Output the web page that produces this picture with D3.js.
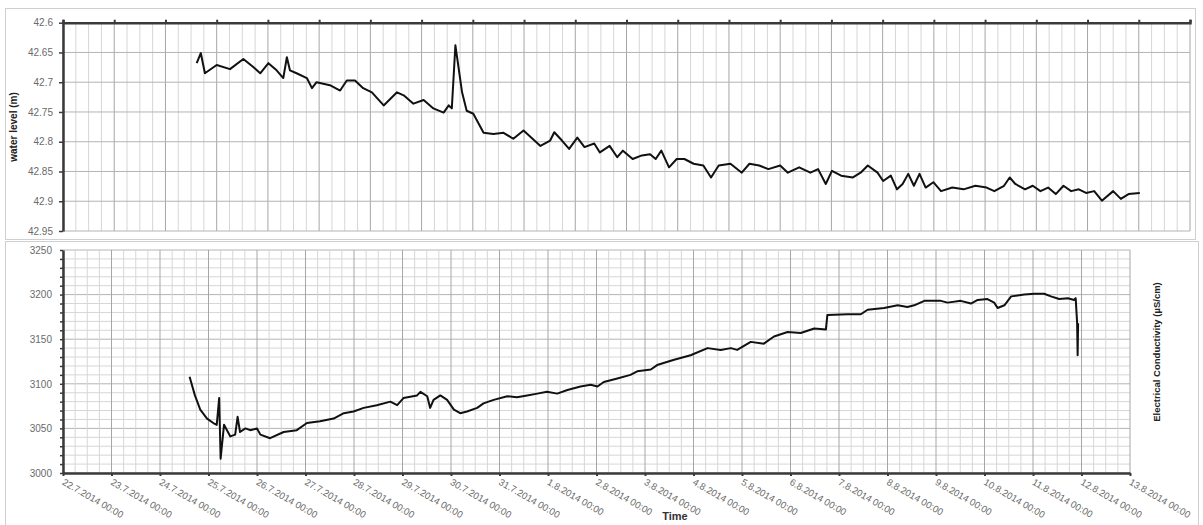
<!DOCTYPE html>
<meta charset="utf-8">
<title>Water level and EC</title>
<style>
body { margin: 0; background: #fff; }
svg { display: block; font-family: "Liberation Sans", Arial, sans-serif; }
</style>
<body>
<script src="https://d3js.org/d3.v7.min.js"></script>
<div id="chart"></div>
<script>

// days since 22.7.2014 00:00 and values
var levelDays = [2.61, 2.69, 2.77, 3.00, 3.26, 3.52, 3.72, 3.85, 4.01, 4.17, 4.30, 4.37, 4.43, 4.56, 4.76, 4.86, 4.95,
  5.21, 5.41, 5.54, 5.70, 5.86, 6.03, 6.26, 6.52, 6.65, 6.84, 7.04, 7.23, 7.43, 7.53, 7.59, 7.66, 7.79, 7.88,
  8.01, 8.21, 8.40, 8.60, 8.79, 8.99, 9.32, 9.51, 9.59, 9.74, 9.88, 10.04, 10.18, 10.37, 10.48, 10.67, 10.82,
  10.93, 11.12, 11.30, 11.46, 11.57, 11.68, 11.83, 11.98, 12.13, 12.31, 12.50, 12.65, 12.80, 13.03, 13.25,
  13.40, 13.59, 13.77, 14.00, 14.15, 14.37, 14.59, 14.74, 14.89, 15.01, 15.19, 15.42, 15.57, 15.71, 15.90,
  16.01, 16.16, 16.28, 16.39, 16.50, 16.61, 16.72, 16.84, 16.99, 17.14, 17.36, 17.58, 17.81, 18.03, 18.18,
  18.37, 18.48, 18.59, 18.78, 18.93, 19.08, 19.23, 19.38, 19.53, 19.68, 19.83, 19.97, 20.13, 20.28, 20.50,
  20.65, 20.80, 21.02];
var levelValues = [42.668, 42.651, 42.685, 42.671, 42.678, 42.661, 42.675, 42.685, 42.668, 42.680, 42.693, 42.658,
  42.680, 42.685, 42.693, 42.710, 42.700, 42.705, 42.714, 42.697, 42.697, 42.710, 42.717, 42.739, 42.717,
  42.722, 42.736, 42.730, 42.744, 42.751, 42.739, 42.744, 42.638, 42.717, 42.748, 42.753, 42.785, 42.787,
  42.785, 42.795, 42.781, 42.807, 42.798, 42.784, 42.798, 42.812, 42.793, 42.809, 42.803, 42.818, 42.807,
  42.826, 42.815, 42.829, 42.823, 42.821, 42.829, 42.815, 42.843, 42.829, 42.829, 42.837, 42.840, 42.860,
  42.840, 42.837, 42.852, 42.837, 42.840, 42.846, 42.840, 42.852, 42.843, 42.852, 42.846, 42.871, 42.849,
  42.857, 42.860, 42.852, 42.840, 42.852, 42.866, 42.857, 42.880, 42.871, 42.854, 42.874, 42.854, 42.877,
  42.868, 42.883, 42.877, 42.880, 42.874, 42.877, 42.883, 42.874, 42.860, 42.871, 42.880, 42.874, 42.883,
  42.877, 42.888, 42.874, 42.883, 42.880, 42.886, 42.883, 42.899, 42.883, 42.896, 42.888, 42.886];

var ecDays = [2.61, 2.72, 2.83, 2.97, 3.10, 3.17, 3.22, 3.25, 3.32, 3.45, 3.55, 3.60, 3.65, 3.76, 3.86, 4.00, 4.07,
  4.27, 4.55, 4.82, 5.03, 5.30, 5.58, 5.79, 5.99, 6.20, 6.47, 6.75, 6.89, 7.02, 7.30, 7.37, 7.51, 7.57, 7.64,
  7.78, 7.92, 8.06, 8.19, 8.33, 8.54, 8.67, 8.88, 9.16, 9.36, 9.57, 9.78, 9.98, 10.19, 10.40, 10.67, 10.88,
  11.02, 11.15, 11.43, 11.70, 11.84, 12.12, 12.25, 12.60, 12.94, 13.29, 13.56, 13.77, 13.90, 14.18, 14.45,
  14.66, 14.94, 15.21, 15.49, 15.73, 15.76, 16.18, 16.45, 16.59, 16.93, 17.21, 17.41, 17.55, 17.76, 18.10,
  18.24, 18.51, 18.72, 18.86, 19.06, 19.20, 19.27, 19.41, 19.55, 19.82, 20.03, 20.23, 20.37, 20.54, 20.72,
  20.85, 20.88, 20.91, 20.92, 20.93];
var ecValues = [3108, 3087, 3071, 3061, 3056, 3054, 3084, 3016, 3054, 3041, 3043, 3063, 3046, 3050, 3048, 3050, 3043,
  3039, 3046, 3048, 3056, 3058, 3061, 3067, 3069, 3073, 3076, 3080, 3076, 3084, 3087, 3091, 3086, 3073, 3082,
  3087, 3082, 3071, 3067, 3069, 3073, 3078, 3082, 3086, 3085, 3087, 3089, 3091, 3089, 3093, 3097, 3099,
  3097, 3102, 3106, 3110, 3114, 3116, 3121, 3127, 3132, 3140, 3138, 3140, 3138, 3147, 3145,
  3153, 3158, 3157, 3162, 3161, 3177, 3178, 3178, 3183, 3185, 3188, 3186, 3188, 3193, 3193,
  3191, 3193, 3190, 3194, 3195, 3191, 3185, 3188, 3198, 3200, 3201, 3201, 3198, 3195, 3196,
  3194, 3196, 3168, 3132, 3168];

var levelTicks = [42.6, 42.65, 42.7, 42.75, 42.8, 42.85, 42.9, 42.95];
var ecTicks = [3000, 3050, 3100, 3150, 3200, 3250];

var start = new Date(Date.UTC(2014, 6, 22));
var end = new Date(Date.UTC(2014, 7, 13));
function toDate(d) { return new Date(start.getTime() + d * 864e5); }

var W = 1203, H = 525;
var svg = d3.select("#chart").append("svg").attr("width", W).attr("height", H);

var dayTicks = d3.utcDay.range(start, d3.utcDay.offset(end, 1));
var quarterTicks = d3.utcHour.every(6).range(start, d3.utcHour.offset(end, 1));
var fmt = function(d) { return d.getUTCDate() + "." + (d.getUTCMonth() + 1) + "." + d.getUTCFullYear() + " 00:00"; };

// panel frames
svg.append("rect").attr("x", 5.5).attr("y", 8.5).attr("width", 1190).attr("height", 231)
  .attr("fill", "none").attr("stroke", "#cfcfcf");
svg.append("rect").attr("x", 5.5).attr("y", 241.5).attr("width", 1193).attr("height", 300)
  .attr("fill", "none").attr("stroke", "#cfcfcf");

// ---------- top panel: water level ----------
var x1 = d3.scaleUtc().domain([start, end]).range([63, 1190]);
var y1 = d3.scaleLinear().domain([42.6, 42.95]).range([22.7, 231]);

var g1 = svg.append("g");
g1.append("g").selectAll("line").data(quarterTicks).enter().append("line")
  .attr("x1", d => x1(d)).attr("x2", d => x1(d)).attr("y1", y1(42.6)).attr("y2", y1(42.95))
  .attr("stroke", d => d.getUTCHours() === 0 ? "#a6a6a6" : "#d6d6d6").attr("stroke-width", 1);
g1.append("g").selectAll("line").data(levelTicks).enter().append("line")
  .attr("x1", 63).attr("x2", 1190).attr("y1", d => y1(d)).attr("y2", d => y1(d))
  .attr("stroke", "#b4b4b4");

g1.append("g").attr("transform", "translate(0," + y1(42.6) + ")")
  .call(d3.axisTop(x1).tickValues(dayTicks).tickSize(3).tickFormat(""))
  .call(g => g.select(".domain").attr("stroke", "#3a3a3a").attr("stroke-width", 2.5))
  .call(g => g.selectAll(".tick line").attr("stroke", "#3a3a3a").attr("stroke-width", 2));

g1.append("g").attr("transform", "translate(63,0)")
  .call(d3.axisLeft(y1).tickValues(levelTicks).tickSize(4).tickSizeOuter(0).tickPadding(6)
    .tickFormat(d => d3.format("")(d)))
  .call(g => g.select(".domain").attr("stroke", "#3a3a3a").attr("stroke-width", 2.5))
  .call(g => g.selectAll(".tick line").attr("stroke", "#3a3a3a").attr("stroke-width", 1.5))
  .call(g => g.selectAll(".tick text").attr("fill", "#6a6a6a").attr("font-size", 10).attr("font-family", "Liberation Sans, Arial, sans-serif"));

var line1 = d3.line().x((d, i) => x1(toDate(levelDays[i]))).y(d => y1(d));
g1.append("path").datum(levelValues).attr("d", line1)
  .attr("fill", "none").attr("stroke", "#111").attr("stroke-width", 2).attr("stroke-linejoin", "round");

g1.append("text").attr("transform", "translate(17,127) rotate(-90)")
  .attr("text-anchor", "middle").attr("font-size", 10).attr("font-weight", "bold").attr("fill", "#222")
  .text("water level (m)");

// ---------- bottom panel: electrical conductivity ----------
var x2 = d3.scaleUtc().domain([start, end]).range([63, 1130]);
var y2 = d3.scaleLinear().domain([3000, 3250]).range([473, 250]);
var minorEc = d3.range(3000, 3251, 10);

var g2 = svg.append("g");
g2.append("g").selectAll("line").data(minorEc).enter().append("line")
  .attr("x1", 63).attr("x2", 1130).attr("y1", d => y2(d)).attr("y2", d => y2(d))
  .attr("stroke", d => d % 50 === 0 ? "#b4b4b4" : "#d6d6d6");
g2.append("g").selectAll("line").data(quarterTicks).enter().append("line")
  .attr("x1", d => x2(d)).attr("x2", d => x2(d)).attr("y1", y2(3250)).attr("y2", y2(3000))
  .attr("stroke", d => d.getUTCHours() === 0 ? "#a6a6a6" : "#d6d6d6");

g2.append("g").attr("transform", "translate(63,0)")
  .call(d3.axisLeft(y2).tickValues(minorEc).tickSize(3).tickSizeOuter(0).tickPadding(8)
    .tickFormat(d => d % 50 === 0 ? d : ""))
  .call(g => g.select(".domain").attr("stroke", "#3a3a3a").attr("stroke-width", 2.5))
  .call(g => g.selectAll(".tick line").attr("stroke", "#3a3a3a").attr("stroke-width", 1.5))
  .call(g => g.selectAll(".tick text").attr("fill", "#6a6a6a").attr("font-size", 10).attr("font-family", "Liberation Sans, Arial, sans-serif"));

var xAxis2 = g2.append("g").attr("transform", "translate(0," + y2(3000) + ")")
  .call(d3.axisBottom(x2).tickValues(dayTicks).tickSize(3).tickSizeOuter(0).tickFormat(fmt))
  .call(g => g.select(".domain").attr("stroke", "#3a3a3a").attr("stroke-width", 2.5))
  .call(g => g.selectAll(".tick line").attr("stroke", "#3a3a3a").attr("stroke-width", 2));
xAxis2.selectAll(".tick text")
  .attr("text-anchor", "start").attr("fill", "#6a6a6a").attr("font-size", 9.5)
  .attr("font-family", "Liberation Sans, Arial, sans-serif")
  .attr("y", 0).attr("x", 0).attr("dy", "0")
  .attr("transform", "translate(-2,11) rotate(30)");

var line2 = d3.line().x((d, i) => x2(toDate(ecDays[i]))).y(d => y2(d));
g2.append("path").datum(ecValues).attr("d", line2)
  .attr("fill", "none").attr("stroke", "#111").attr("stroke-width", 2).attr("stroke-linejoin", "round");

g2.append("text").attr("x", 675).attr("y", 520).attr("text-anchor", "middle")
  .attr("font-size", 11).attr("font-weight", "bold").attr("fill", "#333").text("Time");

g2.append("text").attr("transform", "translate(1160,352) rotate(-90)")
  .attr("text-anchor", "middle").attr("font-size", 9.5).attr("font-weight", "bold").attr("fill", "#222")
  .text("Electrical Conductivity (µS/cm)");

</script>
</body>
